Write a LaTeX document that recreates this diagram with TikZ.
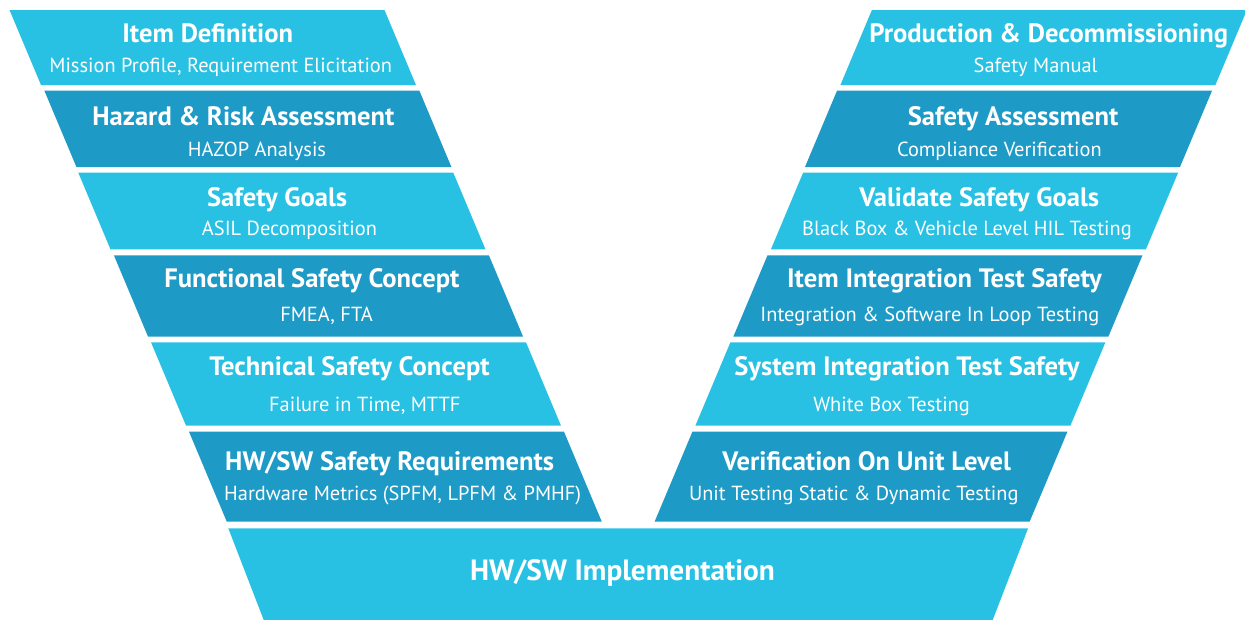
\documentclass[tikz,border=0pt]{standalone}
\usepackage{fontspec}
\setmainfont{PT Sans}
\definecolor{vlight}{HTML}{29C1E3}
\definecolor{vdark}{HTML}{1E9AC6}
\tikzset{
  ttl/.style={anchor=base, text=white, inner sep=0pt, font=\fontsize{26.6}{30}\selectfont\bfseries},
  sub/.style={anchor=base, text=white, inner sep=0pt, font=\fontsize{20.4}{24}\selectfont},
  bigttl/.style={anchor=base, text=white, inner sep=0pt, font=\fontsize{29.3}{34}\selectfont\bfseries},
}
\begin{document}
\begin{tikzpicture}[x=1pt,y=-1pt]
\useasboundingbox (0,0) rectangle (1245,619);
\clip (0,0) rectangle (1245,619);
\def\s{0.42}
\def\W{375}
\def\C{1256.4}
\foreach \n/\t/\b/\a/\col/\to/\so/\lt/\ls/\rt/\rs in {
  1/10/85/9.5/vlight/32.5/62.5/{Item Definition}/{Mission Profile, Requirement Elicitation}/{Production \& Decommissioning}/{Safety Manual},
  2/90.5/167/44.3/vdark/34.5/66/{Hazard \& Risk Assessment}/{HAZOP Analysis}/{Safety Assessment}/{Compliance Verification},
  3/172.7/249.3/78.3/vlight/34/62.3/{Safety Goals}/{ASIL Decomposition}/{Validate Safety Goals}/{Black Box \& Vehicle Level HIL Testing},
  4/255.3/336.7/113.9/vdark/32/66/{Functional Safety Concept}/{FMEA, FTA}/{Item Integration Test Safety}/{Integration \& Software In Loop Testing},
  5/342.3/425.7/151/vlight/33.2/68.7/{Technical Safety Concept}/{Failure in Time, MTTF}/{System Integration Test Safety}/{White Box Testing},
  6/431.7/521.7/189/vdark/38.3/68.3/{HW/SW Safety Requirements}/{Hardware Metrics (SPFM, LPFM \& PMHF)}/{Verification On Unit Level}/{Unit Testing Static \& Dynamic Testing}%
}{
  \pgfmathsetmacro{\h}{\b-\t}
  \pgfmathsetmacro{\xa}{\a+\s*\h}
  % left band
  \fill[\col] (\a,\t) -- ({\a+\W},\t) -- ({\xa+\W},\b) -- (\xa,\b) -- cycle;
  % right band (mirror)
  \fill[\col] ({\C-\a},\t) -- ({\C-\a-\W},\t) -- ({\C-\xa-\W},\b) -- ({\C-\xa},\b) -- cycle;
  \pgfmathsetmacro{\tx}{\a+\s*(\to-7)+\W/2}
  \pgfmathsetmacro{\sx}{\a+\s*(\so-6)+\W/2}
  \pgfmathsetmacro{\ty}{\t+\to}
  \pgfmathsetmacro{\sy}{\t+\so}
  \node[ttl] (lt\n) at (\tx,\ty) {\lt};
  \node[sub] (ls\n) at (\sx,\sy) {\ls};
  \node[ttl] (rt\n) at ({\C-\tx},\ty) {\rt};
  \node[sub] (rs\n) at ({\C-\sx},\sy) {\rs};
}
% bottom band
\fill[vlight] (228.3,528.3) -- (1028.1,528.3) -- (991.4,623.3) -- (265,623.3) -- cycle;
\node[bigttl] (impl) at (622.5,580.7) {HW/SW Implementation};
\end{tikzpicture}
\end{document}
